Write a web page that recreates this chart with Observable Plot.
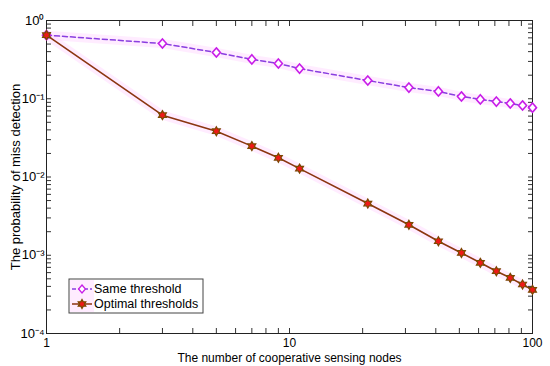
<!DOCTYPE html>
<html><head><meta charset="utf-8">
<script src="https://cdn.jsdelivr.net/npm/d3@7"></script>
<script src="https://cdn.jsdelivr.net/npm/@observablehq/plot@0.6"></script>
<style>body{margin:0;background:#fff} #chart{width:550px;height:366px}</style>
</head><body><div id="chart"></div>
<script>
const nodes = [1, 3, 5, 7, 9, 11, 21, 31, 41, 51, 61, 71, 81, 91, 100];
const sameThreshold = [0.65, 0.508, 0.390, 0.318, 0.282, 0.243, 0.171, 0.139, 0.124, 0.107, 0.098, 0.092, 0.087, 0.082, 0.077];
const optimalThresholds = [0.65, 0.0617, 0.0385, 0.0248, 0.0176, 0.0128, 0.00458, 0.00245, 0.00151, 0.00107, 0.00080, 0.000625, 0.000514, 0.000423, 0.000361];
const seriesNames = ["Same threshold", "Optimal thresholds"];
const xMajorTicks = [1, 10, 100];
const xTickLabels = ["1", "10", "100"];
const yMajorTicks = [1e-4, 1e-3, 1e-2, 1e-1, 1];
const yTickLabels = ["10\u207B\u2074", "10\u207B\u00B3", "10\u207B\u00B2", "10\u207B\u00B9", "10\u2070"];
const xLabel = "The number of cooperative sensing nodes";
const yLabel = "The probability of miss detection";

const colors = {sameLine: "#8a3ee0", sameMark: "#c81ee8", optLine: "#8b3510", optFill: "#f01818", optEdge: "#7a4a00", halo: "#ffc8ff"};
const font = "'Liberation Sans', Arial, sans-serif";

function minorTicks(majors) {
  const out = [];
  for (let i = 0; i < majors.length - 1; i++) for (let k = 1; k < 10; k++) out.push(majors[i] * k);
  out.push(majors[majors.length - 1]);
  return out;
}
const xAllTicks = minorTicks(xMajorTicks);
const yAllTicks = minorTicks(yMajorTicks);

const hexagram = {draw(ctx, size) {
  const R = Math.sqrt(size / Math.PI) * 1.25, r = R / Math.sqrt(3);
  for (let i = 0; i < 12; i++) {
    const a = -Math.PI / 2 + i * Math.PI / 6, rr = i % 2 ? r : R;
    const x = rr * Math.cos(a), y = rr * Math.sin(a);
    if (i === 0) ctx.moveTo(x, y); else ctx.lineTo(x, y);
  }
  ctx.closePath();
}};
const diamondSym = {draw(ctx, size) {
  const w = Math.sqrt(size / Math.PI), h = w * 1.15;
  ctx.moveTo(0, -h); ctx.lineTo(w, 0); ctx.lineTo(0, h); ctx.lineTo(-w, 0); ctx.closePath();
}};

const same = nodes.map((n, i) => ({n, p: sameThreshold[i]}));
const opt = nodes.map((n, i) => ({n, p: optimalThresholds[i]}));

const fmtX = d => { const i = xMajorTicks.indexOf(d); return i >= 0 ? xTickLabels[i] : ""; };
const fmtY = d => { const i = yMajorTicks.findIndex(v => Math.abs(v - d) / v < 1e-9); return i >= 0 ? yTickLabels[i] : ""; };

const plot = Plot.plot({
  width: 550, height: 366,
  marginLeft: 46, marginRight: 18, marginTop: 20, marginBottom: 33,
  style: {fontFamily: font, fontSize: "12px", background: "#fff", color: "#000"},
  x: {type: "log", domain: [1, 100]},
  y: {type: "log", domain: [1e-4, 1]},
  marks: [
    Plot.line(same, {x: "n", y: "p", stroke: colors.halo, strokeWidth: 9, strokeOpacity: 0.35}),
    Plot.line(opt, {x: "n", y: "p", stroke: colors.halo, strokeWidth: 9, strokeOpacity: 0.35}),
    Plot.axisX({anchor: "bottom", ticks: xAllTicks, tickSize: -5, tickFormat: () => "", stroke: "#333", label: null}),
    Plot.axisX({anchor: "top", ticks: xAllTicks, tickSize: -5, tickFormat: () => "", stroke: "#333", label: null}),
    Plot.axisY({anchor: "left", ticks: yAllTicks, tickSize: -5, tickFormat: () => "", stroke: "#333", label: null}),
    Plot.axisY({anchor: "right", ticks: yAllTicks, tickSize: -5, tickFormat: () => "", stroke: "#333", label: null}),
    Plot.axisX({anchor: "bottom", ticks: xMajorTicks, tickSize: 0, tickPadding: 5, tickFormat: fmtX, fontSize: 12, label: xLabel, labelAnchor: "center", labelOffset: 28, labelArrow: "none"}),
    Plot.axisY({anchor: "left", ticks: yMajorTicks, tickSize: 0, tickPadding: 2, tickFormat: fmtY, fontSize: 13, label: yLabel, labelAnchor: "center", labelOffset: 36, labelArrow: "none"}),
    Plot.frame({stroke: "#222"}),
    Plot.line(same, {x: "n", y: "p", stroke: colors.sameLine, strokeWidth: 1.5, strokeDasharray: "5,3"}),
    Plot.dot(same, {x: "n", y: "p", symbol: diamondSym, r: 4, stroke: colors.sameMark, strokeWidth: 1.6, fill: "#fff"}),
    Plot.line(opt, {x: "n", y: "p", stroke: colors.optLine, strokeWidth: 1.6}),
    Plot.dot(opt, {x: "n", y: "p", symbol: hexagram, r: 3.6, stroke: colors.optEdge, strokeWidth: 1.2, fill: colors.optFill})
  ]
});
document.getElementById("chart").append(plot);

// legend inside the plot area (lower left)
const svg = d3.select(plot);
const lg = svg.append("g").attr("transform", "translate(69,279)");
lg.append("rect").attr("width", 134).attr("height", 34).attr("fill", "#fff").attr("stroke", "#444");
lg.append("rect").attr("x", 1).attr("y", 1).attr("width", 24).attr("height", 32).attr("fill", colors.halo).attr("opacity", 0.35);
const items = [
  {name: seriesNames[0], line: colors.sameLine, dash: "4,2", sym: diamondSym, fill: "#fff", edge: colors.sameMark},
  {name: seriesNames[1], line: colors.optLine, dash: null, sym: hexagram, fill: colors.optFill, edge: colors.optEdge}
];
items.forEach((it, i) => {
  const y = 10 + i * 15;
  lg.append("line").attr("x1", 3).attr("x2", 23).attr("y1", y).attr("y2", y)
    .attr("stroke", it.line).attr("stroke-width", 1.5).attr("stroke-dasharray", it.dash);
  lg.append("path").attr("d", d3.symbol(it.sym, Math.PI * 12)()).attr("transform", `translate(13,${y})`)
    .attr("fill", it.fill).attr("stroke", it.edge).attr("stroke-width", 1.3);
  lg.append("text").attr("x", 25).attr("y", y + 4).attr("font-size", 12.5).attr("text-anchor", "start")
    .attr("font-family", font).attr("fill", "#000").text(it.name);
});
</script>
</body></html>
